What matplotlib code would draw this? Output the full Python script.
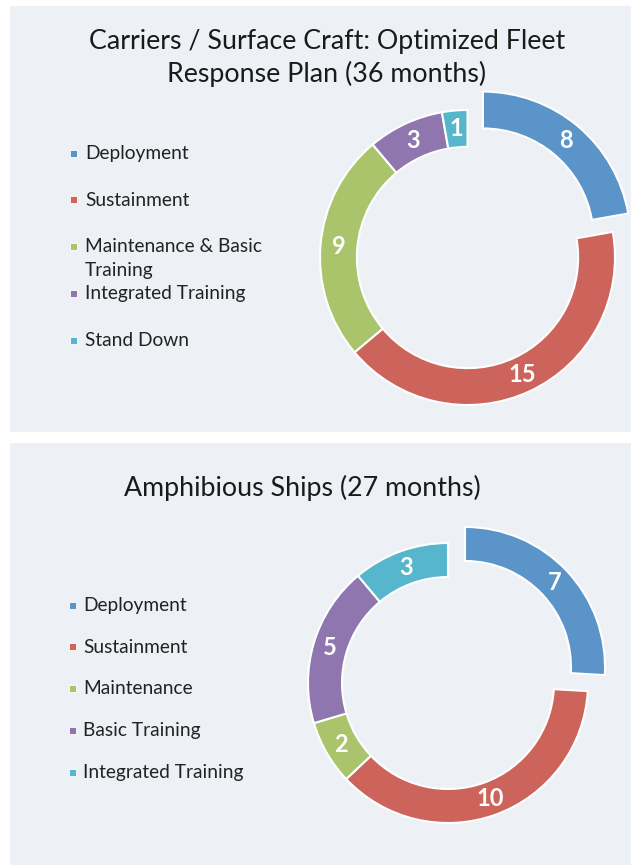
import matplotlib
matplotlib.use("Agg")
import matplotlib.pyplot as plt
from matplotlib.patches import Rectangle

plt.rcParams['font.family'] = ['Lato', 'DejaVu Sans']

# ---- data ----
top_title = "Carriers / Surface Craft: Optimized Fleet\nResponse Plan (36 months)"
top_labels = ["Deployment", "Sustainment", "Maintenance & Basic\nTraining",
              "Integrated Training", "Stand Down"]
top_values = [8, 15, 9, 3, 1]

bot_title = "Amphibious Ships (27 months)"
bot_labels = ["Deployment", "Sustainment", "Maintenance", "Basic Training",
              "Integrated Training"]
bot_values = [7, 10, 2, 5, 3]

colors = ["#5b94c8", "#cd645b", "#a9c46a", "#8f76ae", "#56b7cc"]

W, H = 631, 865
fig = plt.figure(figsize=(W / 100, H / 100), dpi=100)
fig.patch.set_facecolor("white")

bg = fig.add_axes([0, 0, 1, 1])
bg.set_xlim(0, W)
bg.set_ylim(H, 0)
bg.axis("off")

panel_col = "#edf0f5"
bg.add_patch(Rectangle((10, 6), W - 10, 426, facecolor=panel_col, edgecolor="none"))
bg.add_patch(Rectangle((10, 443), W - 10, H - 443, facecolor=panel_col, edgecolor="none"))

# titles
bg.text(327, 58, top_title, ha="center", va="center", fontsize=19.3,
        color="#1a1a1a", linespacing=1.36)
bg.text(302, 488, bot_title, ha="center", va="center", fontsize=19.3, color="#1a1a1a")


def legend(labels, x_mark, x_text, y_rows):
    for lab, col, y in zip(labels, colors, y_rows):
        bg.add_patch(Rectangle((x_mark - 3.5, y - 3.5), 7, 7, facecolor=col,
                               edgecolor="white", lw=0.6))
        bg.text(x_text, y - 8, lab, ha="left", va="top", fontsize=13.8,
                color="#222222", linespacing=1.45)


legend(top_labels, 73, 85, [153, 199.75, 246.5, 293.25, 340])
legend(bot_labels, 72, 83, [605, 646.75, 688.5, 730.25, 772])


def donut(values, cx, cy, R, width, explode):
    lim = 1.3
    side = 2 * lim * R
    ax = fig.add_axes([(cx - side / 2) / W, (H - cy - side / 2) / H, side / W, side / H])
    total = sum(values)
    ex = [explode] + [0] * (len(values) - 1)
    ax.pie(
        values, colors=colors, startangle=90, counterclock=False, explode=ex,
        radius=1, wedgeprops=dict(width=width, edgecolor="white", linewidth=1.5),
        autopct=lambda p: f"{round(p * total / 100)}", pctdistance=1 - width / 2,
        textprops=dict(color="white", fontsize=17, fontweight="bold"))
    ax.set_xlim(-lim, lim)
    ax.set_ylim(-lim, lim)
    ax.set_aspect("equal")
    ax.axis("off")
    return ax


donut(top_values, 467.5, 257.5, 147.5, 0.25, 0.163)
donut(bot_values, 448, 683, 140, 0.243, 0.167)

fig.savefig("out.png", dpi=100, facecolor="white")
